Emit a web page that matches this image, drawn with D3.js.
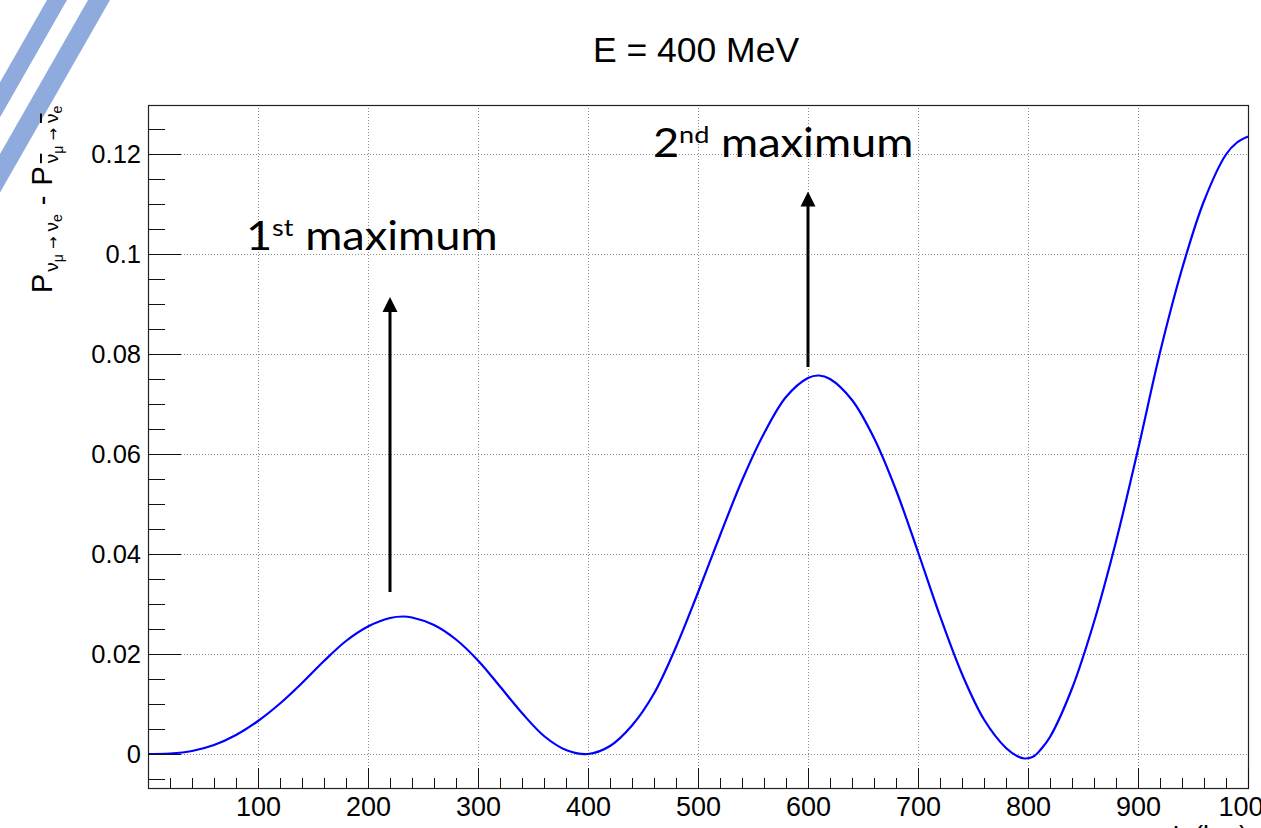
<!DOCTYPE html>
<html>
<head>
<meta charset="utf-8">
<script src="https://cdn.jsdelivr.net/npm/d3@7"></script>
<style>
  html, body { margin: 0; padding: 0; background: #ffffff; }
  svg { display: block; }
  text { font-family: "Liberation Sans", Arial, Helvetica, sans-serif; fill: #000; }
  .note { font-family: Lato, "Open Sans", sans-serif; }
  .arrowglyph { font-family: "DejaVu Sans", sans-serif; }
</style>
</head>
<body>
<svg id="chart" width="1261" height="828"></svg>
<script>
// Baseline L (km) and CP asymmetry P(numu->nue) - P(anti-numu->anti-nue) at E = 400 MeV
const distanceKm = [0, 20, 40, 60, 80, 100, 120, 140, 160, 180, 200, 220, 232, 240, 260, 280, 300,
  320, 340, 360, 380, 400, 420, 440, 460, 480, 500, 520, 540, 560, 580, 600, 610, 620, 640, 660, 680, 700,
  720, 740, 760, 780, 790, 797, 805, 812, 820, 840, 860, 880, 900, 920, 940, 960, 980, 990, 1000];
const probDiff = [0, 0.0001, 0.0006, 0.0018, 0.0038, 0.0066, 0.0101, 0.0142, 0.0186, 0.0226, 0.0255, 0.0272, 0.0275, 0.0273, 0.0258, 0.0229, 0.0187,
  0.0135, 0.0082, 0.0036, 0.0008, 0.0000, 0.0016, 0.0057, 0.0121, 0.0214, 0.0323, 0.0437, 0.0547, 0.0641, 0.0714, 0.0752, 0.0757, 0.0750, 0.0708, 0.0632, 0.0528, 0.0404,
  0.0276, 0.0160, 0.0069, 0.0012, -0.0004, -0.0009, -0.0005, 0.0010, 0.0034, 0.0131, 0.0264, 0.0425, 0.0609, 0.0803, 0.0970, 0.1106, 0.1199, 0.1223, 0.1235];

// Axis tick values
const xMajorTicks = [100, 200, 300, 400, 500, 600, 700, 800, 900, 1000];
const xMinorStep = 20;
const yMajorTicks = [0, 0.02, 0.04, 0.06, 0.08, 0.1, 0.12];
const yMinorStep = 0.005;

// Texts
const chartTitle = "E = 400 MeV";
const xTitle = "L (km)";

// Annotated maxima: label text and arrow in data units
const maxima = [
  { num: "1", sup: "st", word: "maximum", textL: 89, textP: 0.1009, arrowL: 220, arrowFrom: 0.0324, arrowTo: 0.0914 },
  { num: "2", sup: "nd", word: "maximum", textL: 459, textP: 0.1195, arrowL: 600, arrowFrom: 0.0774, arrowTo: 0.1125 }
];

const svg = d3.select("#chart");
const W = 1261, H = 828;
const frame = { left: 148, right: 1248, top: 105, bottom: 788 };

const x = d3.scaleLinear().domain([0, 1000]).range([frame.left, frame.right]);
const y = d3.scaleLinear().domain([-0.0068, 0.1298]).range([frame.bottom, frame.top]);

svg.append("rect").attr("width", W).attr("height", H).attr("fill", "#fff");

// Decorative diagonal stripes in the top-left corner
const stripes = svg.append("g").attr("fill", "#8faadc");
[[47, 67], [88, 110]].forEach(([a, b]) => {
  const s = 1.75;
  stripes.append("polygon").attr("points", `${a},0 ${b},0 0,${b * s} 0,${a * s}`);
});

// Grid lines (dotted)
const grid = svg.append("g").attr("stroke", "#8c8c8c").attr("stroke-width", 1)
  .attr("stroke-dasharray", "1,2").attr("shape-rendering", "crispEdges");
grid.selectAll(".gx").data(xMajorTicks.filter(d => d < 1000)).join("line")
  .attr("x1", d => Math.round(x(d)) + 0.5).attr("x2", d => Math.round(x(d)) + 0.5)
  .attr("y1", frame.top).attr("y2", frame.bottom);
grid.selectAll(".gy").data(yMajorTicks).join("line")
  .attr("y1", d => Math.round(y(d)) + 0.5).attr("y2", d => Math.round(y(d)) + 0.5)
  .attr("x1", frame.left).attr("x2", frame.right);

// The curve
const line = d3.line()
  .x((d, i) => x(distanceKm[i]))
  .y(d => y(d))
  .curve(d3.curveCatmullRom.alpha(0.5));
svg.append("path").datum(probDiff)
  .attr("d", line)
  .attr("fill", "none")
  .attr("stroke", "#0000ff")
  .attr("stroke-width", 2.2);

// Frame
svg.append("rect")
  .attr("x", frame.left + 0.5).attr("y", frame.top + 0.5)
  .attr("width", frame.right - frame.left).attr("height", frame.bottom - frame.top)
  .attr("fill", "none").attr("stroke", "#222").attr("stroke-width", 1.2);

// X axis: ticks point into the frame
const xMinor = d3.range(xMinorStep, 1000, xMinorStep).filter(v => v % 100 !== 0);
const gxMinor = svg.append("g").attr("transform", `translate(0,${frame.bottom})`)
  .call(d3.axisBottom(x).tickValues(xMinor).tickSizeInner(-10).tickSizeOuter(0).tickFormat(""));
const gx = svg.append("g").attr("transform", `translate(0,${frame.bottom})`)
  .call(d3.axisBottom(x).tickValues(xMajorTicks).tickSizeInner(-20).tickSizeOuter(0).tickPadding(9).tickFormat(d3.format("d")));
[gx, gxMinor].forEach(g => {
  g.select(".domain").remove();
  g.selectAll("line").attr("stroke", "#111").attr("shape-rendering", "crispEdges");
});
gx.selectAll("text").attr("font-size", 27).attr("font-family", "Liberation Sans, Arial, sans-serif").attr("fill", "#000");

// Y axis
const yMinor = d3.range(-1, 27).filter(i => i % 4 !== 0).map(i => +(i * yMinorStep).toFixed(3))
  .filter(v => y(v) <= frame.bottom && y(v) >= frame.top);
const gyMinor = svg.append("g").attr("transform", `translate(${frame.left},0)`)
  .call(d3.axisLeft(y).tickValues(yMinor).tickSizeInner(-16.5).tickSizeOuter(0).tickFormat(""));
const gy = svg.append("g").attr("transform", `translate(${frame.left},0)`)
  .call(d3.axisLeft(y).tickValues(yMajorTicks).tickSizeInner(-33).tickSizeOuter(0).tickPadding(7)
    .tickFormat(d => String(+d.toFixed(2))));
[gy, gyMinor].forEach(g => {
  g.select(".domain").remove();
  g.selectAll("line").attr("stroke", "#111").attr("shape-rendering", "crispEdges");
});
gy.selectAll("text").attr("font-size", 25.5).attr("font-family", "Liberation Sans, Arial, sans-serif").attr("fill", "#000");

// Title
svg.append("text")
  .attr("x", (frame.left + frame.right) / 2 - 2).attr("y", 62)
  .attr("text-anchor", "middle").attr("font-size", 35.5)
  .text(chartTitle);

// X axis title (sits at the lower edge, right aligned)
svg.append("text")
  .attr("x", frame.right).attr("y", 845)
  .attr("text-anchor", "end").attr("font-size", 27)
  .text(xTitle);

// Y axis title: P_{nu_mu -> nu_e} - P_{nubar_mu -> nubar_e}
const yt = svg.append("text")
  .attr("transform", "translate(52,293) rotate(-90)")
  .attr("font-size", 29);
const part = (t, size, dx, dy, opts = {}) => {
  const s = yt.append("tspan").attr("font-size", size).attr("dx", dx).attr("dy", dy).text(t);
  if (opts.bar) s.attr("text-decoration", "overline");
  if (opts.arrow) s.attr("class", "arrowglyph");
  return s;
};
part("P", 29, 0, 0);
part("\u03bd", 19, 2, 6);
part("\u03bc", 14, 0, 5);
part("\u2192", 15, 5, -5, { arrow: true });
part("\u03bd", 19, 5, 0);
part("e", 14, 0, 4);
part("-", 29, 9, -10);
part("P", 29, 10, 0);
part("\u03bd", 19, 3, 6, { bar: true });
part("\u03bc", 14, 0, 5);
part("\u2192", 15, 5, -5, { arrow: true });
part("\u03bd", 19, 5, 0, { bar: true });
part("e", 14, 0, 4);

// Annotations for the two maxima
const notes = svg.append("g");
maxima.forEach(m => {
  const t = notes.append("text").attr("class", "note")
    .attr("transform", `translate(${x(m.textL)},${y(m.textP)}) scale(1.13,1)`)
    .attr("font-size", 40);
  t.append("tspan").text(m.num);
  t.append("tspan").attr("font-size", 24).attr("dy", -14).text(m.sup);
  t.append("tspan").attr("dy", 14).text(" " + m.word);

  const ax = x(m.arrowL), y0 = y(m.arrowFrom), y1 = y(m.arrowTo);
  const head = 15, half = 7.5;
  notes.append("line")
    .attr("x1", ax).attr("x2", ax).attr("y1", y0).attr("y2", y1 + head - 1)
    .attr("stroke", "#000").attr("stroke-width", 3);
  notes.append("path")
    .attr("d", `M${ax},${y1} L${ax + half},${y1 + head} L${ax - half},${y1 + head} Z`)
    .attr("fill", "#000");
});
</script>
</body>
</html>
